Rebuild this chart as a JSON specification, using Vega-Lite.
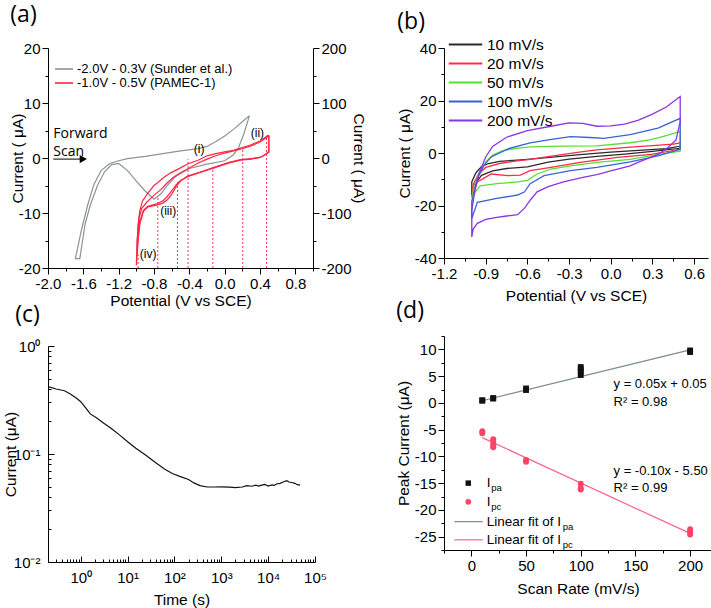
{
"$schema": "https://vega.github.io/schema/vega-lite/v6.json",
"padding": {"left": 3, "top": 4, "right": 2, "bottom": 2},
"background": "white",
"config": {
  "view": {"stroke": null},
  "font": "Liberation Sans",
  "axis": {"grid": false, "domainColor": "#000", "tickColor": "#000", "labelColor": "#000", "titleColor": "#000", "labelFont": "Liberation Sans", "titleFont": "Liberation Sans", "labelFontSize": 15, "titleFontSize": 15.5, "titleFontWeight": "normal", "labelFlush": false, "labelOverlap": false, "labelBound": false, "labelPadding": 2, "titlePadding": 4, "domainWidth": 1, "tickWidth": 1, "tickSize": 6},
  "title": {"font": "Open Sans", "fontSize": 23, "fontWeight": "normal", "anchor": "start", "frame": "bounds", "color": "#000"},
  "legend": {"labelFont": "Liberation Sans", "labelColor": "#000"},
  "text": {"font": "Liberation Sans", "color": "#000"}
},
"datasets": {
  "a_sunder": [
    {"s":"-2.0V - 0.3V (Sunder et al.)","k":1,"V":0.28,"I":7.7},{"s":"-2.0V - 0.3V (Sunder et al.)","k":2,"V":0.22,"I":4.5},{"s":"-2.0V - 0.3V (Sunder et al.)","k":3,"V":0.16,"I":2.0},{"s":"-2.0V - 0.3V (Sunder et al.)","k":4,"V":0.1,"I":0.6},{"s":"-2.0V - 0.3V (Sunder et al.)","k":5,"V":0.0,"I":-0.5},{"s":"-2.0V - 0.3V (Sunder et al.)","k":6,"V":-0.2,"I":-1.1},{"s":"-2.0V - 0.3V (Sunder et al.)","k":7,"V":-0.4,"I":-1.9},{"s":"-2.0V - 0.3V (Sunder et al.)","k":8,"V":-0.55,"I":-3.3},{"s":"-2.0V - 0.3V (Sunder et al.)","k":9,"V":-0.65,"I":-5.0},{"s":"-2.0V - 0.3V (Sunder et al.)","k":10,"V":-0.72,"I":-6.5},{"s":"-2.0V - 0.3V (Sunder et al.)","k":11,"V":-0.8,"I":-7.5},{"s":"-2.0V - 0.3V (Sunder et al.)","k":12,"V":-0.9,"I":-6.0},{"s":"-2.0V - 0.3V (Sunder et al.)","k":13,"V":-1.0,"I":-4.2},{"s":"-2.0V - 0.3V (Sunder et al.)","k":14,"V":-1.1,"I":-2.3},{"s":"-2.0V - 0.3V (Sunder et al.)","k":15,"V":-1.2,"I":-1.0},{"s":"-2.0V - 0.3V (Sunder et al.)","k":16,"V":-1.28,"I":-1.2},{"s":"-2.0V - 0.3V (Sunder et al.)","k":17,"V":-1.36,"I":-2.5},{"s":"-2.0V - 0.3V (Sunder et al.)","k":18,"V":-1.44,"I":-5.0},{"s":"-2.0V - 0.3V (Sunder et al.)","k":19,"V":-1.52,"I":-8.5},{"s":"-2.0V - 0.3V (Sunder et al.)","k":20,"V":-1.58,"I":-12.0},{"s":"-2.0V - 0.3V (Sunder et al.)","k":21,"V":-1.64,"I":-18.3},{"s":"-2.0V - 0.3V (Sunder et al.)","k":22,"V":-1.69,"I":-18.3},{"s":"-2.0V - 0.3V (Sunder et al.)","k":23,"V":-1.62,"I":-13.0},{"s":"-2.0V - 0.3V (Sunder et al.)","k":24,"V":-1.55,"I":-8.5},{"s":"-2.0V - 0.3V (Sunder et al.)","k":25,"V":-1.48,"I":-4.8},{"s":"-2.0V - 0.3V (Sunder et al.)","k":26,"V":-1.4,"I":-2.3},{"s":"-2.0V - 0.3V (Sunder et al.)","k":27,"V":-1.3,"I":-1.0},{"s":"-2.0V - 0.3V (Sunder et al.)","k":28,"V":-1.2,"I":-0.5},{"s":"-2.0V - 0.3V (Sunder et al.)","k":29,"V":-1.1,"I":-0.1},{"s":"-2.0V - 0.3V (Sunder et al.)","k":30,"V":-0.9,"I":0.3},{"s":"-2.0V - 0.3V (Sunder et al.)","k":31,"V":-0.7,"I":0.8},{"s":"-2.0V - 0.3V (Sunder et al.)","k":32,"V":-0.5,"I":1.3},{"s":"-2.0V - 0.3V (Sunder et al.)","k":33,"V":-0.3,"I":1.7},{"s":"-2.0V - 0.3V (Sunder et al.)","k":34,"V":-0.2,"I":2.1},{"s":"-2.0V - 0.3V (Sunder et al.)","k":35,"V":-0.1,"I":3.0},{"s":"-2.0V - 0.3V (Sunder et al.)","k":36,"V":0.0,"I":4.0},{"s":"-2.0V - 0.3V (Sunder et al.)","k":37,"V":0.1,"I":5.2},{"s":"-2.0V - 0.3V (Sunder et al.)","k":38,"V":0.2,"I":6.6},{"s":"-2.0V - 0.3V (Sunder et al.)","k":39,"V":0.28,"I":7.7}
  ],
  "a_pamec": [
    {"s":"-1.0V - 0.5V (PAMEC-1)","c":1,"k":1,"V":0.5,"I":42},{"s":"-1.0V - 0.5V (PAMEC-1)","c":1,"k":2,"V":0.5,"I":12},{"s":"-1.0V - 0.5V (PAMEC-1)","c":1,"k":3,"V":0.45,"I":5},{"s":"-1.0V - 0.5V (PAMEC-1)","c":1,"k":4,"V":0.4,"I":1},{"s":"-1.0V - 0.5V (PAMEC-1)","c":1,"k":5,"V":0.3,"I":-1},{"s":"-1.0V - 0.5V (PAMEC-1)","c":1,"k":6,"V":0.18,"I":-3},{"s":"-1.0V - 0.5V (PAMEC-1)","c":1,"k":7,"V":0.05,"I":-8},{"s":"-1.0V - 0.5V (PAMEC-1)","c":1,"k":8,"V":-0.12,"I":-17},{"s":"-1.0V - 0.5V (PAMEC-1)","c":1,"k":9,"V":-0.25,"I":-24},{"s":"-1.0V - 0.5V (PAMEC-1)","c":1,"k":10,"V":-0.35,"I":-29},{"s":"-1.0V - 0.5V (PAMEC-1)","c":1,"k":11,"V":-0.42,"I":-33},{"s":"-1.0V - 0.5V (PAMEC-1)","c":1,"k":12,"V":-0.5,"I":-42},{"s":"-1.0V - 0.5V (PAMEC-1)","c":1,"k":13,"V":-0.55,"I":-52},{"s":"-1.0V - 0.5V (PAMEC-1)","c":1,"k":14,"V":-0.6,"I":-66},{"s":"-1.0V - 0.5V (PAMEC-1)","c":1,"k":15,"V":-0.65,"I":-76},{"s":"-1.0V - 0.5V (PAMEC-1)","c":1,"k":16,"V":-0.7,"I":-82},{"s":"-1.0V - 0.5V (PAMEC-1)","c":1,"k":17,"V":-0.78,"I":-86},{"s":"-1.0V - 0.5V (PAMEC-1)","c":1,"k":18,"V":-0.87,"I":-89},{"s":"-1.0V - 0.5V (PAMEC-1)","c":1,"k":19,"V":-0.92,"I":-97},{"s":"-1.0V - 0.5V (PAMEC-1)","c":1,"k":20,"V":-0.96,"I":-120},{"s":"-1.0V - 0.5V (PAMEC-1)","c":1,"k":21,"V":-0.98,"I":-150},{"s":"-1.0V - 0.5V (PAMEC-1)","c":1,"k":22,"V":-0.995,"I":-185},{"s":"-1.0V - 0.5V (PAMEC-1)","c":1,"k":23,"V":-1.0,"I":-195},{"s":"-1.0V - 0.5V (PAMEC-1)","c":1,"k":24,"V":-0.99,"I":-150},{"s":"-1.0V - 0.5V (PAMEC-1)","c":1,"k":25,"V":-0.98,"I":-120},{"s":"-1.0V - 0.5V (PAMEC-1)","c":1,"k":26,"V":-0.96,"I":-95},{"s":"-1.0V - 0.5V (PAMEC-1)","c":1,"k":27,"V":-0.93,"I":-78},{"s":"-1.0V - 0.5V (PAMEC-1)","c":1,"k":28,"V":-0.87,"I":-64},{"s":"-1.0V - 0.5V (PAMEC-1)","c":1,"k":29,"V":-0.8,"I":-50},{"s":"-1.0V - 0.5V (PAMEC-1)","c":1,"k":30,"V":-0.76,"I":-45},{"s":"-1.0V - 0.5V (PAMEC-1)","c":1,"k":31,"V":-0.68,"I":-34},{"s":"-1.0V - 0.5V (PAMEC-1)","c":1,"k":32,"V":-0.61,"I":-27},{"s":"-1.0V - 0.5V (PAMEC-1)","c":1,"k":33,"V":-0.5,"I":-18},{"s":"-1.0V - 0.5V (PAMEC-1)","c":1,"k":34,"V":-0.42,"I":-11},{"s":"-1.0V - 0.5V (PAMEC-1)","c":1,"k":35,"V":-0.3,"I":-4},{"s":"-1.0V - 0.5V (PAMEC-1)","c":1,"k":36,"V":-0.2,"I":4},{"s":"-1.0V - 0.5V (PAMEC-1)","c":1,"k":37,"V":-0.1,"I":8},{"s":"-1.0V - 0.5V (PAMEC-1)","c":1,"k":38,"V":0.0,"I":11},{"s":"-1.0V - 0.5V (PAMEC-1)","c":1,"k":39,"V":0.1,"I":14},{"s":"-1.0V - 0.5V (PAMEC-1)","c":1,"k":40,"V":0.2,"I":19},{"s":"-1.0V - 0.5V (PAMEC-1)","c":1,"k":41,"V":0.3,"I":24},{"s":"-1.0V - 0.5V (PAMEC-1)","c":1,"k":42,"V":0.4,"I":31},{"s":"-1.0V - 0.5V (PAMEC-1)","c":1,"k":43,"V":0.5,"I":42},
    {"s":"-1.0V - 0.5V (PAMEC-1)","c":2,"k":1,"V":0.5,"I":40},{"s":"-1.0V - 0.5V (PAMEC-1)","c":2,"k":2,"V":0.5,"I":10},{"s":"-1.0V - 0.5V (PAMEC-1)","c":2,"k":3,"V":0.4,"I":1},{"s":"-1.0V - 0.5V (PAMEC-1)","c":2,"k":4,"V":0.3,"I":-2},{"s":"-1.0V - 0.5V (PAMEC-1)","c":2,"k":5,"V":0.18,"I":-4},{"s":"-1.0V - 0.5V (PAMEC-1)","c":2,"k":6,"V":0.05,"I":-9},{"s":"-1.0V - 0.5V (PAMEC-1)","c":2,"k":7,"V":-0.12,"I":-18},{"s":"-1.0V - 0.5V (PAMEC-1)","c":2,"k":8,"V":-0.25,"I":-25},{"s":"-1.0V - 0.5V (PAMEC-1)","c":2,"k":9,"V":-0.42,"I":-34},{"s":"-1.0V - 0.5V (PAMEC-1)","c":2,"k":10,"V":-0.5,"I":-41},{"s":"-1.0V - 0.5V (PAMEC-1)","c":2,"k":11,"V":-0.55,"I":-49},{"s":"-1.0V - 0.5V (PAMEC-1)","c":2,"k":12,"V":-0.6,"I":-60},{"s":"-1.0V - 0.5V (PAMEC-1)","c":2,"k":13,"V":-0.65,"I":-70},{"s":"-1.0V - 0.5V (PAMEC-1)","c":2,"k":14,"V":-0.7,"I":-78},{"s":"-1.0V - 0.5V (PAMEC-1)","c":2,"k":15,"V":-0.78,"I":-84},{"s":"-1.0V - 0.5V (PAMEC-1)","c":2,"k":16,"V":-0.87,"I":-88},{"s":"-1.0V - 0.5V (PAMEC-1)","c":2,"k":17,"V":-0.92,"I":-95},{"s":"-1.0V - 0.5V (PAMEC-1)","c":2,"k":18,"V":-0.96,"I":-115},{"s":"-1.0V - 0.5V (PAMEC-1)","c":2,"k":19,"V":-0.98,"I":-145},{"s":"-1.0V - 0.5V (PAMEC-1)","c":2,"k":20,"V":-0.995,"I":-178},{"s":"-1.0V - 0.5V (PAMEC-1)","c":2,"k":21,"V":-0.99,"I":-150},{"s":"-1.0V - 0.5V (PAMEC-1)","c":2,"k":22,"V":-0.97,"I":-110},{"s":"-1.0V - 0.5V (PAMEC-1)","c":2,"k":23,"V":-0.94,"I":-92},{"s":"-1.0V - 0.5V (PAMEC-1)","c":2,"k":24,"V":-0.88,"I":-80},{"s":"-1.0V - 0.5V (PAMEC-1)","c":2,"k":25,"V":-0.8,"I":-68},{"s":"-1.0V - 0.5V (PAMEC-1)","c":2,"k":26,"V":-0.72,"I":-57},{"s":"-1.0V - 0.5V (PAMEC-1)","c":2,"k":27,"V":-0.65,"I":-45},{"s":"-1.0V - 0.5V (PAMEC-1)","c":2,"k":28,"V":-0.58,"I":-35},{"s":"-1.0V - 0.5V (PAMEC-1)","c":2,"k":29,"V":-0.5,"I":-27},{"s":"-1.0V - 0.5V (PAMEC-1)","c":2,"k":30,"V":-0.4,"I":-18},{"s":"-1.0V - 0.5V (PAMEC-1)","c":2,"k":31,"V":-0.3,"I":-9},{"s":"-1.0V - 0.5V (PAMEC-1)","c":2,"k":32,"V":-0.2,"I":-2},{"s":"-1.0V - 0.5V (PAMEC-1)","c":2,"k":33,"V":-0.1,"I":4},{"s":"-1.0V - 0.5V (PAMEC-1)","c":2,"k":34,"V":0.0,"I":9},{"s":"-1.0V - 0.5V (PAMEC-1)","c":2,"k":35,"V":0.1,"I":13},{"s":"-1.0V - 0.5V (PAMEC-1)","c":2,"k":36,"V":0.2,"I":17},{"s":"-1.0V - 0.5V (PAMEC-1)","c":2,"k":37,"V":0.3,"I":22},{"s":"-1.0V - 0.5V (PAMEC-1)","c":2,"k":38,"V":0.4,"I":29},{"s":"-1.0V - 0.5V (PAMEC-1)","c":2,"k":39,"V":0.5,"I":40}
  ],
  "a_dots": [
    {"V":-0.98,"bot":-20,"top":-17.5},{"V":-0.757,"bot":-20,"top":-7.2},{"V":-0.534,"bot":-20,"top":-4.2},{"V":-0.414,"bot":-20,"top":-0.2},{"V":-0.134,"bot":-20,"top":-1.6},{"V":0.205,"bot":-20,"top":1.7},{"V":0.474,"bot":-20,"top":4.1}
  ],
  "a_note": [{"t":"Forward","V":-1.94,"I":4.4},{"t":"Scan","V":-1.94,"I":1.1}],
  "a_roman": [{"t":"(i)","V":-0.35,"I":1.6},{"t":"(ii)","V":0.295,"I":4.6},{"t":"(iii)","V":-0.73,"I":-9.6},{"t":"(iv)","V":-0.96,"I":-17.5}],
  "a_arrow": [{"V":-1.94,"V2":-1.6,"I":-0.2}],
  "b_cv": [
    {"r":"10 mV/s","k":1,"V":-1.0,"I":-16},{"r":"10 mV/s","k":2,"V":-1.0,"I":-11},{"r":"10 mV/s","k":3,"V":-0.97,"I":-7.5},{"r":"10 mV/s","k":4,"V":-0.93,"I":-5.2},{"r":"10 mV/s","k":5,"V":-0.88,"I":-4.0},{"r":"10 mV/s","k":6,"V":-0.8,"I":-3.2},{"r":"10 mV/s","k":7,"V":-0.7,"I":-2.8},{"r":"10 mV/s","k":8,"V":-0.6,"I":-2.4},{"r":"10 mV/s","k":9,"V":-0.4,"I":-1.5},{"r":"10 mV/s","k":10,"V":-0.2,"I":-0.5},{"r":"10 mV/s","k":11,"V":0.0,"I":0.3},{"r":"10 mV/s","k":12,"V":0.2,"I":1.0},{"r":"10 mV/s","k":13,"V":0.4,"I":1.7},{"r":"10 mV/s","k":14,"V":0.5,"I":2.6},{"r":"10 mV/s","k":15,"V":0.5,"I":1.8},{"r":"10 mV/s","k":16,"V":0.3,"I":0.6},{"r":"10 mV/s","k":17,"V":0.1,"I":-0.4},{"r":"10 mV/s","k":18,"V":-0.1,"I":-1.3},{"r":"10 mV/s","k":19,"V":-0.3,"I":-2.3},{"r":"10 mV/s","k":20,"V":-0.45,"I":-3.5},{"r":"10 mV/s","k":21,"V":-0.6,"I":-5.3},{"r":"10 mV/s","k":22,"V":-0.75,"I":-5.9},{"r":"10 mV/s","k":23,"V":-0.85,"I":-6.8},{"r":"10 mV/s","k":24,"V":-0.93,"I":-8.5},{"r":"10 mV/s","k":25,"V":-0.98,"I":-12},{"r":"10 mV/s","k":26,"V":-1.0,"I":-16},
    {"r":"20 mV/s","k":1,"V":-1.0,"I":-17},{"r":"20 mV/s","k":2,"V":-0.99,"I":-12},{"r":"20 mV/s","k":3,"V":-0.95,"I":-8},{"r":"20 mV/s","k":4,"V":-0.9,"I":-5.5},{"r":"20 mV/s","k":5,"V":-0.8,"I":-4.0},{"r":"20 mV/s","k":6,"V":-0.7,"I":-3.2},{"r":"20 mV/s","k":7,"V":-0.58,"I":-2.4},{"r":"20 mV/s","k":8,"V":-0.45,"I":-1.4},{"r":"20 mV/s","k":9,"V":-0.34,"I":-0.5},{"r":"20 mV/s","k":10,"V":-0.2,"I":0.5},{"r":"20 mV/s","k":11,"V":-0.1,"I":1.2},{"r":"20 mV/s","k":12,"V":0.14,"I":2.2},{"r":"20 mV/s","k":13,"V":0.3,"I":2.8},{"r":"20 mV/s","k":14,"V":0.45,"I":3.4},{"r":"20 mV/s","k":15,"V":0.5,"I":3.9},{"r":"20 mV/s","k":16,"V":0.5,"I":1.4},{"r":"20 mV/s","k":17,"V":0.29,"I":-0.5},{"r":"20 mV/s","k":18,"V":0.05,"I":-1.7},{"r":"20 mV/s","k":19,"V":-0.22,"I":-3.6},{"r":"20 mV/s","k":20,"V":-0.43,"I":-5.5},{"r":"20 mV/s","k":21,"V":-0.58,"I":-6.7},{"r":"20 mV/s","k":22,"V":-0.65,"I":-8.4},{"r":"20 mV/s","k":23,"V":-0.74,"I":-8.6},{"r":"20 mV/s","k":24,"V":-0.86,"I":-8.0},{"r":"20 mV/s","k":25,"V":-0.96,"I":-11},{"r":"20 mV/s","k":26,"V":-1.0,"I":-17},
    {"r":"50 mV/s","k":1,"V":-1.0,"I":-20},{"r":"50 mV/s","k":2,"V":-0.99,"I":-14},{"r":"50 mV/s","k":3,"V":-0.95,"I":-8},{"r":"50 mV/s","k":4,"V":-0.9,"I":-3.5},{"r":"50 mV/s","k":5,"V":-0.85,"I":-0.8},{"r":"50 mV/s","k":6,"V":-0.78,"I":0.8},{"r":"50 mV/s","k":7,"V":-0.68,"I":1.8},{"r":"50 mV/s","k":8,"V":-0.58,"I":2.3},{"r":"50 mV/s","k":9,"V":-0.35,"I":2.6},{"r":"50 mV/s","k":10,"V":-0.1,"I":2.7},{"r":"50 mV/s","k":11,"V":0.14,"I":3.9},{"r":"50 mV/s","k":12,"V":0.28,"I":5.0},{"r":"50 mV/s","k":13,"V":0.38,"I":6.3},{"r":"50 mV/s","k":14,"V":0.5,"I":8.2},{"r":"50 mV/s","k":15,"V":0.5,"I":0.7},{"r":"50 mV/s","k":16,"V":0.34,"I":-0.5},{"r":"50 mV/s","k":17,"V":0.14,"I":-2.4},{"r":"50 mV/s","k":18,"V":-0.1,"I":-3.6},{"r":"50 mV/s","k":19,"V":-0.29,"I":-4.9},{"r":"50 mV/s","k":20,"V":-0.43,"I":-6.1},{"r":"50 mV/s","k":21,"V":-0.53,"I":-8.0},{"r":"50 mV/s","k":22,"V":-0.6,"I":-10.4},{"r":"50 mV/s","k":23,"V":-0.67,"I":-11.0},{"r":"50 mV/s","k":24,"V":-0.82,"I":-11.7},{"r":"50 mV/s","k":25,"V":-0.94,"I":-12.5},{"r":"50 mV/s","k":26,"V":-0.99,"I":-16},{"r":"50 mV/s","k":27,"V":-1.0,"I":-20},
    {"r":"100 mV/s","k":1,"V":-1.0,"I":-25},{"r":"100 mV/s","k":2,"V":-1.0,"I":-18.5},{"r":"100 mV/s","k":3,"V":-0.96,"I":-9.8},{"r":"100 mV/s","k":4,"V":-0.91,"I":-4.5},{"r":"100 mV/s","k":5,"V":-0.86,"I":-1.5},{"r":"100 mV/s","k":6,"V":-0.74,"I":1.6},{"r":"100 mV/s","k":7,"V":-0.58,"I":3.9},{"r":"100 mV/s","k":8,"V":-0.45,"I":5.0},{"r":"100 mV/s","k":9,"V":-0.29,"I":6.2},{"r":"100 mV/s","k":10,"V":-0.15,"I":5.9},{"r":"100 mV/s","k":11,"V":-0.05,"I":5.6},{"r":"100 mV/s","k":12,"V":0.14,"I":7.0},{"r":"100 mV/s","k":13,"V":0.34,"I":9.5},{"r":"100 mV/s","k":14,"V":0.5,"I":13.2},{"r":"100 mV/s","k":15,"V":0.5,"I":1.4},{"r":"100 mV/s","k":16,"V":0.34,"I":-1.1},{"r":"100 mV/s","k":17,"V":0.14,"I":-3.4},{"r":"100 mV/s","k":18,"V":-0.1,"I":-5.5},{"r":"100 mV/s","k":19,"V":-0.29,"I":-6.7},{"r":"100 mV/s","k":20,"V":-0.48,"I":-8.6},{"r":"100 mV/s","k":21,"V":-0.58,"I":-11.7},{"r":"100 mV/s","k":22,"V":-0.62,"I":-14.8},{"r":"100 mV/s","k":23,"V":-0.67,"I":-16.0},{"r":"100 mV/s","k":24,"V":-0.82,"I":-17.3},{"r":"100 mV/s","k":25,"V":-0.96,"I":-18.8},{"r":"100 mV/s","k":26,"V":-1.0,"I":-25},
    {"r":"200 mV/s","k":1,"V":-1.0,"I":-32},{"r":"200 mV/s","k":2,"V":-1.0,"I":-22},{"r":"200 mV/s","k":3,"V":-0.98,"I":-15},{"r":"200 mV/s","k":4,"V":-0.95,"I":-8},{"r":"200 mV/s","k":5,"V":-0.9,"I":-1.5},{"r":"200 mV/s","k":6,"V":-0.85,"I":2.5},{"r":"200 mV/s","k":7,"V":-0.75,"I":6.0},{"r":"200 mV/s","k":8,"V":-0.6,"I":8.5},{"r":"200 mV/s","k":9,"V":-0.45,"I":10.0},{"r":"200 mV/s","k":10,"V":-0.3,"I":11.5},{"r":"200 mV/s","k":11,"V":-0.2,"I":11.3},{"r":"200 mV/s","k":12,"V":-0.1,"I":10.2},{"r":"200 mV/s","k":13,"V":0.0,"I":10.3},{"r":"200 mV/s","k":14,"V":0.1,"I":11.0},{"r":"200 mV/s","k":15,"V":0.2,"I":12.5},{"r":"200 mV/s","k":16,"V":0.3,"I":14.8},{"r":"200 mV/s","k":17,"V":0.4,"I":17.5},{"r":"200 mV/s","k":18,"V":0.5,"I":21.5},{"r":"200 mV/s","k":19,"V":0.5,"I":12},{"r":"200 mV/s","k":20,"V":0.47,"I":5},{"r":"200 mV/s","k":21,"V":0.4,"I":1.5},{"r":"200 mV/s","k":22,"V":0.34,"I":-0.5},{"r":"200 mV/s","k":23,"V":0.2,"I":-3.5},{"r":"200 mV/s","k":24,"V":0.14,"I":-4.9},{"r":"200 mV/s","k":25,"V":0.0,"I":-6.8},{"r":"200 mV/s","k":26,"V":-0.1,"I":-8.2},{"r":"200 mV/s","k":27,"V":-0.2,"I":-9.3},{"r":"200 mV/s","k":28,"V":-0.34,"I":-11.0},{"r":"200 mV/s","k":29,"V":-0.45,"I":-12.8},{"r":"200 mV/s","k":30,"V":-0.53,"I":-14.8},{"r":"200 mV/s","k":31,"V":-0.58,"I":-18.0},{"r":"200 mV/s","k":32,"V":-0.62,"I":-21.0},{"r":"200 mV/s","k":33,"V":-0.67,"I":-23.5},{"r":"200 mV/s","k":34,"V":-0.75,"I":-24.0},{"r":"200 mV/s","k":35,"V":-0.82,"I":-24.5},{"r":"200 mV/s","k":36,"V":-0.9,"I":-25.3},{"r":"200 mV/s","k":37,"V":-0.96,"I":-26.8},{"r":"200 mV/s","k":38,"V":-0.99,"I":-29},{"r":"200 mV/s","k":39,"V":-1.0,"I":-32}
  ],
  "c_ca": [
    {"t":0.2,"I":0.42},{"t":0.3,"I":0.4},{"t":0.45,"I":0.385},{"t":0.6,"I":0.36},{"t":0.8,"I":0.33},{"t":1.0,"I":0.305},{"t":1.3,"I":0.265},{"t":1.6,"I":0.235},{"t":2.2,"I":0.215},{"t":3,"I":0.195},{"t":4.5,"I":0.172},{"t":7,"I":0.148},{"t":10,"I":0.13},{"t":15,"I":0.113},{"t":25,"I":0.097},{"t":40,"I":0.083},{"t":60,"I":0.073},{"t":90,"I":0.066},{"t":130,"I":0.062},{"t":200,"I":0.058},{"t":260,"I":0.054},{"t":350,"I":0.051},{"t":500,"I":0.0495},{"t":700,"I":0.0495},{"t":1000,"I":0.0497},{"t":1500,"I":0.0493},{"t":2000,"I":0.0488},{"t":2800,"I":0.0495},{"t":3500,"I":0.051},{"t":4500,"I":0.0503},{"t":5500,"I":0.0515},{"t":6200,"I":0.0505},{"t":7000,"I":0.0512},{"t":8500,"I":0.0522},{"t":10000,"I":0.0505},{"t":12000,"I":0.0518},{"t":13500,"I":0.0512},{"t":15000,"I":0.0528},{"t":18000,"I":0.0535},{"t":21000,"I":0.055},{"t":25000,"I":0.0565},{"t":28000,"I":0.055},{"t":32000,"I":0.0545},{"t":37000,"I":0.0535},{"t":42000,"I":0.052},{"t":48000,"I":0.0515}
  ],
  "d_pts": [
    {"g":"pa","x":10,"y":0.4},{"g":"pa","x":10,"y":0.5},{"g":"pa","x":20,"y":0.8},{"g":"pa","x":20,"y":0.9},{"g":"pa","x":50,"y":2.4},{"g":"pa","x":50,"y":2.7},{"g":"pa","x":100,"y":5.2},{"g":"pa","x":100,"y":5.8},{"g":"pa","x":100,"y":6.3},{"g":"pa","x":100,"y":6.7},{"g":"pa","x":200,"y":9.5},{"g":"pa","x":200,"y":9.8},
    {"g":"pc","x":10,"y":-5.3},{"g":"pc","x":10,"y":-5.7},{"g":"pc","x":20,"y":-6.8},{"g":"pc","x":20,"y":-7.3},{"g":"pc","x":20,"y":-7.9},{"g":"pc","x":20,"y":-8.3},{"g":"pc","x":50,"y":-10.7},{"g":"pc","x":50,"y":-11.0},{"g":"pc","x":100,"y":-15.1},{"g":"pc","x":100,"y":-15.9},{"g":"pc","x":100,"y":-16.2},{"g":"pc","x":200,"y":-23.6},{"g":"pc","x":200,"y":-24.1},{"g":"pc","x":200,"y":-24.6}
  ],
  "d_fit": [{"g":"pa","x":10,"y":0.4},{"g":"pa","x":200,"y":9.9},{"g":"pc","x":10,"y":-6.5},{"g":"pc","x":200,"y":-24.4}],
  "d_eq": [{"t":"y = 0.05x + 0.05","x":130,"y":3.6},{"t":"R² = 0.98","x":130,"y":0.1},{"t":"y = -0.10x - 5.50","x":130,"y":-12.7},{"t":"R² = 0.99","x":130,"y":-15.9}],
  "d_legsym": [{"g":"pa","x":-2.8,"y":-15.0},{"g":"pc","x":-2.8,"y":-18.5}],
  "d_legline": [{"g":"pa","x":-15.6,"x2":10.4,"y":-22.2},{"g":"pc","x":-15.6,"x2":10.4,"y":-25.6}],
  "d_legtxt": [{"t":"I","x":14,"y":-15.0},{"t":"I","x":14,"y":-18.5},{"t":"Linear fit of I","x":14,"y":-22.2},{"t":"Linear fit of I","x":14,"y":-25.6}],
  "d_legsub": [{"t":"pa","x":18.2,"y":-15.0},{"t":"pc","x":18.2,"y":-18.5},{"t":"pa","x":83.5,"y":-22.2},{"t":"pc","x":83.5,"y":-25.6}]
},
"hconcat": [
 {"vconcat": [
  {
   "width": 265, "height": 220,
   "title": {"text": "(a)", "offset": 14},
   "layer": [
    {"layer": [
      {"data": {"name": "a_sunder"}, "mark": {"type": "line", "strokeWidth": 1.2},
       "encoding": {
        "x": {"field": "V", "type": "quantitative", "scale": {"domain": [-2, 1], "nice": false, "zero": false},
              "axis": {"orient": "bottom", "title": "Potential (V vs SCE)", "titlePadding": 2, "values": [-2,-1.6,-1.2,-0.8,-0.4,0,0.4,0.8],
                       "labelExpr": "(datum.value<0?'-':'')+format(abs(datum.value),'.1f')"}},
        "y": {"field": "I", "type": "quantitative", "scale": {"domain": [-20, 20], "nice": false, "zero": false},
              "axis": {"orient": "left", "title": "Current ( μA)", "titlePadding": -7, "values": [-20,-10,0,10,20],
                       "labelExpr": "(datum.value<0?'-':'')+abs(datum.value)"}},
        "order": {"field": "k", "type": "quantitative"},
        "color": {"field": "s", "type": "nominal",
                  "scale": {"domain": ["-2.0V - 0.3V (Sunder et al.)", "-1.0V - 0.5V (PAMEC-1)"], "range": ["#8c9494", "#ff2545"]},
                  "legend": {"title": null, "orient": "none", "legendX": 9, "legendY": 14, "symbolType": "M-1.5,0H1.5", "symbolSize": 144, "symbolStrokeWidth": 1.6, "labelFontSize": 13, "labelOffset": 6, "rowPadding": 0, "padding": 0}}
       }},
      {"data": {"name": "a_sunder"}, "mark": {"type": "line", "opacity": 0},
       "encoding": {
        "x": {"field": "V", "type": "quantitative", "axis": {"orient": "bottom", "values": [-1.8,-1.4,-1.0,-0.6,-0.2,0.2,0.6,1.0], "labels": false, "domain": false, "tickSize": 3, "title": null}},
        "y": {"field": "I", "type": "quantitative", "axis": {"orient": "left", "values": [-15,-5,5,15], "labels": false, "domain": false, "tickSize": 3, "title": null}},
        "order": {"field": "k", "type": "quantitative"}
       }},
      {"data": {"name": "a_dots"}, "mark": {"type": "rule", "color": "#ff3355", "strokeDash": [2, 2], "strokeWidth": 1},
       "encoding": {
        "x": {"field": "V", "type": "quantitative", "axis": null},
        "y": {"field": "bot", "type": "quantitative", "axis": null},
        "y2": {"field": "top"}
       }},
      {"data": {"name": "a_note"}, "mark": {"type": "text", "align": "left", "baseline": "middle", "fontSize": 14, "font": "Open Sans"},
       "encoding": {
        "x": {"field": "V", "type": "quantitative", "axis": null},
        "y": {"field": "I", "type": "quantitative", "axis": null},
        "text": {"field": "t"}
       }},
      {"data": {"name": "a_roman"}, "mark": {"type": "text", "align": "left", "baseline": "middle", "fontSize": 12},
       "encoding": {
        "x": {"field": "V", "type": "quantitative", "axis": null},
        "y": {"field": "I", "type": "quantitative", "axis": null},
        "text": {"field": "t"}
       }},
      {"data": {"name": "a_arrow"}, "mark": {"type": "rule", "color": "#000", "strokeWidth": 1},
       "encoding": {
        "x": {"field": "V", "type": "quantitative", "axis": null},
        "x2": {"field": "V2"},
        "y": {"field": "I", "type": "quantitative", "axis": null}
       }},
      {"data": {"name": "a_arrow"}, "mark": {"type": "point", "shape": "triangle-right", "filled": true, "color": "#000", "size": 70, "opacity": 1},
       "encoding": {
        "x": {"field": "V2", "type": "quantitative", "axis": null},
        "y": {"field": "I", "type": "quantitative", "axis": null}
       }}
    ], "resolve": {"axis": {"x": "independent", "y": "independent"}}},
    {"layer": [
      {"data": {"name": "a_pamec"}, "mark": {"type": "line", "strokeWidth": 1.2},
       "encoding": {
        "x": {"field": "V", "type": "quantitative", "axis": null},
        "y": {"field": "I", "type": "quantitative", "scale": {"domain": [-200, 200], "nice": false, "zero": false},
              "axis": {"orient": "right", "title": "Current ( μA)", "titlePadding": -1, "values": [-200,-100,0,100,200],
                       "labelExpr": "(datum.value<0?'-':'')+abs(datum.value)"}},
        "order": {"field": "k", "type": "quantitative"},
        "detail": {"field": "c", "type": "nominal"},
        "color": {"field": "s", "type": "nominal"}
       }},
      {"data": {"name": "a_pamec"}, "mark": {"type": "line", "opacity": 0},
       "encoding": {
        "x": {"field": "V", "type": "quantitative", "axis": null},
        "y": {"field": "I", "type": "quantitative", "axis": {"orient": "right", "values": [-150,-50,50,150], "labels": false, "domain": false, "tickSize": 3, "title": null}},
        "order": {"field": "k", "type": "quantitative"}
       }}
    ], "resolve": {"axis": {"x": "independent", "y": "independent"}}}
   ],
   "resolve": {"scale": {"y": "independent"}, "axis": {"x": "independent", "y": "independent"}}
  },
  {
   "width": 267, "height": 216,
   "title": {"text": "(c)", "offset": 12, "dx": 12},
   "layer": [
    {"data": {"name": "c_ca"}, "mark": {"type": "line", "strokeWidth": 1.2, "color": "#111"},
     "encoding": {
      "x": {"field": "t", "type": "quantitative", "scale": {"type": "log", "domain": [0.2, 100000], "nice": false},
            "axis": {"orient": "bottom", "title": "Time (s)", "titlePadding": 7, "tickSize": -6, "labelPadding": 14, "values": [1,10,100,1000,10000,100000],
                     "labelExpr": "datum.value==1?'10⁰':datum.value==10?'10¹':datum.value==100?'10²':datum.value==1000?'10³':datum.value==10000?'10⁴':'10⁵'"}},
      "y": {"field": "I", "type": "quantitative", "scale": {"type": "log", "domain": [0.01, 1], "nice": false},
            "axis": {"orient": "left", "title": "Current (μA)", "titlePadding": -5, "tickSize": -6, "labelPadding": 14, "values": [0.01,0.1,1],
                     "labelExpr": "datum.value==1?'10⁰':datum.value==0.1?'10⁻¹':'10⁻²'"}},
      "order": {"field": "t", "type": "quantitative"}
     }},
    {"data": {"name": "c_ca"}, "mark": {"type": "line", "opacity": 0},
     "encoding": {
      "x": {"field": "t", "type": "quantitative", "axis": {"orient": "bottom", "values": [0.2,0.3,0.4,0.5,0.6,0.7,0.8,0.9,2,3,4,5,6,7,8,9,20,30,40,50,60,70,80,90,200,300,400,500,600,700,800,900,2000,3000,4000,5000,6000,7000,8000,9000,20000,30000,40000,50000,60000,70000,80000,90000], "labels": false, "domain": false, "tickSize": -3, "title": null}},
      "y": {"field": "I", "type": "quantitative", "axis": {"orient": "left", "values": [0.02,0.03,0.04,0.05,0.06,0.07,0.08,0.09,0.2,0.3,0.4,0.5,0.6,0.7,0.8,0.9], "labels": false, "domain": false, "tickSize": -3, "title": null}},
      "order": {"field": "t", "type": "quantitative"}
     }}
   ],
   "resolve": {"axis": {"x": "independent", "y": "independent"}}
  }
 ], "spacing": -5},
 {"vconcat": [
  {
   "width": 264, "height": 210,
   "title": {"text": "(b)", "offset": 7},
   "layer": [
    {"data": {"name": "b_cv"}, "mark": {"type": "line", "strokeWidth": 1.3},
     "encoding": {
      "x": {"field": "V", "type": "quantitative", "scale": {"domain": [-1.2, 0.7], "nice": false, "zero": false},
            "axis": {"orient": "bottom", "title": "Potential (V vs SCE)", "titlePadding": 7, "values": [-1.2,-0.9,-0.6,-0.3,0,0.3,0.6],
                     "labelExpr": "(datum.value<0?'-':'')+format(abs(datum.value),'.1f')"}},
      "y": {"field": "I", "type": "quantitative", "scale": {"domain": [-40, 40], "nice": false, "zero": false},
            "axis": {"orient": "left", "title": "Current ( μA)", "titlePadding": 2, "values": [-40,-20,0,20,40],
                     "labelExpr": "(datum.value<0?'-':'')+abs(datum.value)"}},
      "order": {"field": "k", "type": "quantitative"},
      "color": {"field": "r", "type": "nominal",
                "scale": {"domain": ["10 mV/s", "20 mV/s", "50 mV/s", "100 mV/s", "200 mV/s"], "range": ["#2b2b2b", "#ff2a4a", "#55e030", "#3a62d8", "#8a35e6"]},
                "legend": {"title": null, "orient": "none", "legendX": 12, "legendY": -13, "symbolType": "M-2,0H2", "symbolSize": 280, "symbolStrokeWidth": 2, "labelFontSize": 15.5, "labelOffset": 12, "rowPadding": 1, "padding": 0}}
     }},
    {"data": {"name": "b_cv"}, "mark": {"type": "line", "opacity": 0},
     "encoding": {
      "x": {"field": "V", "type": "quantitative", "axis": {"orient": "bottom", "values": [-1.05,-0.75,-0.45,-0.15,0.15,0.45], "labels": false, "domain": false, "tickSize": 3, "title": null}},
      "y": {"field": "I", "type": "quantitative", "axis": {"orient": "left", "values": [-30,-10,10,30], "labels": false, "domain": false, "tickSize": 3, "title": null}},
      "order": {"field": "k", "type": "quantitative"}
     }}
   ],
   "resolve": {"axis": {"x": "independent", "y": "independent"}}
  },
  {
   "width": 268, "height": 214,
   "title": {"text": "(d)", "offset": 13},
   "layer": [
    {"data": {"name": "d_fit"}, "transform": [{"filter": "datum.g=='pa'"}], "mark": {"type": "line", "strokeWidth": 1.2, "color": "#7d8a96"},
     "encoding": {
      "x": {"field": "x", "type": "quantitative", "scale": {"domain": [-25, 220], "nice": false, "zero": false},
            "axis": {"orient": "bottom", "title": "Scan Rate (mV/s)", "titlePadding": 8, "values": [0,50,100,150,200]}},
      "y": {"field": "y", "type": "quantitative", "scale": {"domain": [-27.5, 12.5], "nice": false, "zero": false},
            "axis": {"orient": "left", "title": "Peak Current (μA)", "titlePadding": 3, "values": [-25,-20,-15,-10,-5,0,5,10],
                     "labelExpr": "(datum.value<0?'-':'')+abs(datum.value)"}}
     }},
    {"data": {"name": "d_fit"}, "mark": {"type": "line", "opacity": 0},
     "encoding": {
      "x": {"field": "x", "type": "quantitative", "axis": {"orient": "bottom", "values": [-25,25,75,125,175], "labels": false, "domain": false, "tickSize": 3, "title": null}},
      "y": {"field": "y", "type": "quantitative", "axis": {"orient": "left", "values": [-27.5,-22.5,-17.5,-12.5,-7.5,-2.5,2.5,7.5,12.5], "labels": false, "domain": false, "tickSize": 3, "title": null}},
      "detail": {"field": "g", "type": "nominal"}
     }},
    {"data": {"name": "d_fit"}, "transform": [{"filter": "datum.g=='pc'"}], "mark": {"type": "line", "strokeWidth": 1.2, "color": "#ff6384"},
     "encoding": {"x": {"field": "x", "type": "quantitative", "axis": null}, "y": {"field": "y", "type": "quantitative", "axis": null}}},
    {"data": {"name": "d_legline"}, "transform": [{"filter": "datum.g=='pa'"}], "mark": {"type": "rule", "strokeWidth": 1.2, "color": "#7d8a96"},
     "encoding": {"x": {"field": "x", "type": "quantitative", "axis": null}, "x2": {"field": "x2"}, "y": {"field": "y", "type": "quantitative", "axis": null}}},
    {"data": {"name": "d_legline"}, "transform": [{"filter": "datum.g=='pc'"}], "mark": {"type": "rule", "strokeWidth": 1.2, "color": "#ff6384"},
     "encoding": {"x": {"field": "x", "type": "quantitative", "axis": null}, "x2": {"field": "x2"}, "y": {"field": "y", "type": "quantitative", "axis": null}}},
    {"data": {"name": "d_pts"}, "transform": [{"filter": "datum.g=='pa'"}], "mark": {"type": "square", "size": 34, "color": "#111", "opacity": 1},
     "encoding": {"x": {"field": "x", "type": "quantitative", "axis": null}, "y": {"field": "y", "type": "quantitative", "axis": null}}},
    {"data": {"name": "d_pts"}, "transform": [{"filter": "datum.g=='pc'"}], "mark": {"type": "circle", "size": 36, "color": "#ff4466", "opacity": 1},
     "encoding": {"x": {"field": "x", "type": "quantitative", "axis": null}, "y": {"field": "y", "type": "quantitative", "axis": null}}},
    {"data": {"name": "d_legsym"}, "transform": [{"filter": "datum.g=='pa'"}], "mark": {"type": "square", "size": 30, "color": "#111", "opacity": 1},
     "encoding": {"x": {"field": "x", "type": "quantitative", "axis": null}, "y": {"field": "y", "type": "quantitative", "axis": null}}},
    {"data": {"name": "d_legsym"}, "transform": [{"filter": "datum.g=='pc'"}], "mark": {"type": "circle", "size": 34, "color": "#ff4466", "opacity": 1},
     "encoding": {"x": {"field": "x", "type": "quantitative", "axis": null}, "y": {"field": "y", "type": "quantitative", "axis": null}}},
    {"data": {"name": "d_eq"}, "mark": {"type": "text", "align": "left", "baseline": "middle", "fontSize": 13},
     "encoding": {"x": {"field": "x", "type": "quantitative", "axis": null}, "y": {"field": "y", "type": "quantitative", "axis": null}, "text": {"field": "t"}}},
    {"data": {"name": "d_legtxt"}, "mark": {"type": "text", "align": "left", "baseline": "middle", "fontSize": 13.5},
     "encoding": {"x": {"field": "x", "type": "quantitative", "axis": null}, "y": {"field": "y", "type": "quantitative", "axis": null}, "text": {"field": "t"}}},
    {"data": {"name": "d_legsub"}, "mark": {"type": "text", "align": "left", "baseline": "middle", "fontSize": 9.5, "dy": 5},
     "encoding": {"x": {"field": "x", "type": "quantitative", "axis": null}, "y": {"field": "y", "type": "quantitative", "axis": null}, "text": {"field": "t"}}}
   ],
   "resolve": {"axis": {"x": "independent", "y": "independent"}}
  }
 ], "spacing": -5}
],
"spacing": 30,
"resolve": {"scale": {"color": "independent"}}
}
